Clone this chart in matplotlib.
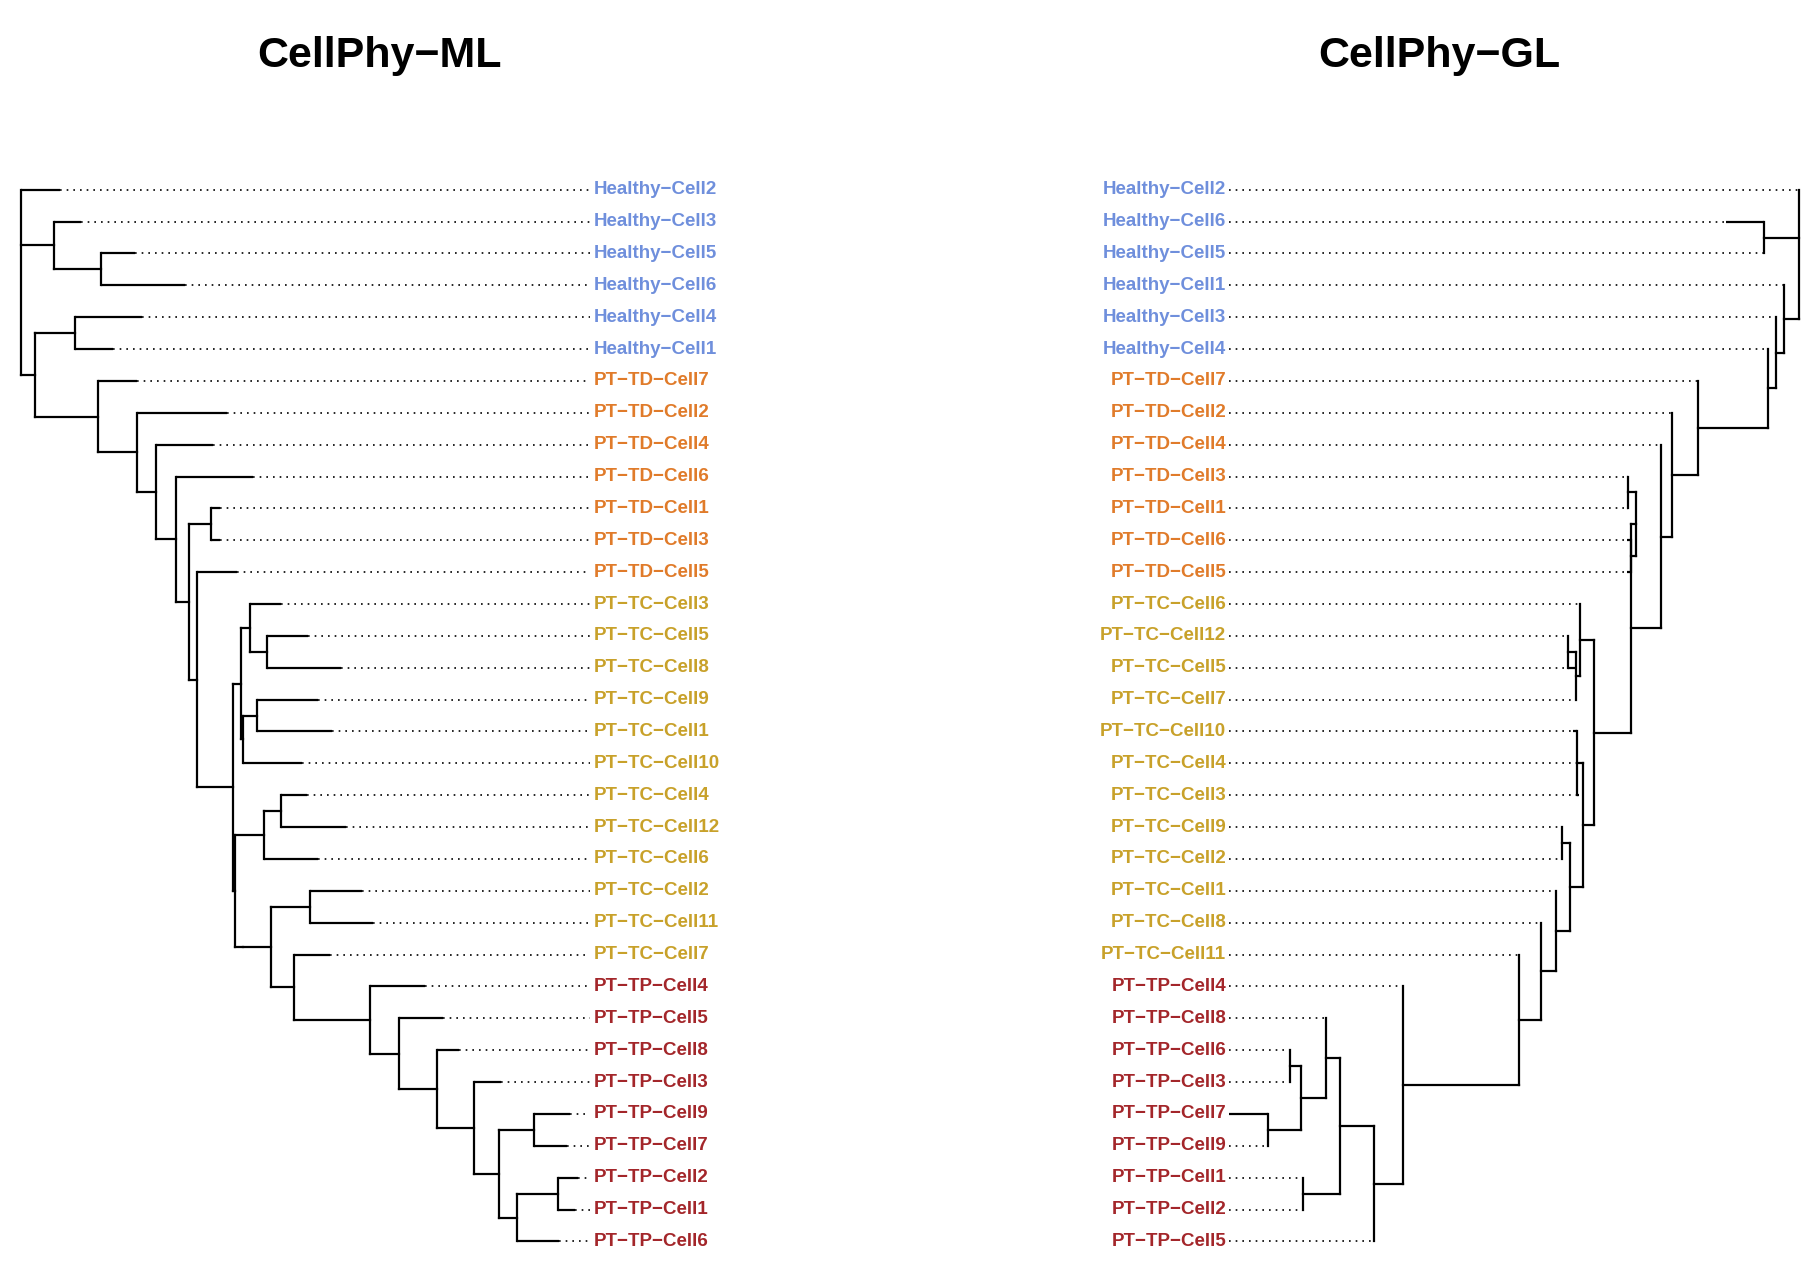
import matplotlib.pyplot as plt

# leaf tip positions (tree depth, in canvas units) -- left tree: CellPhy-ML
ml_tips = {
    'Healthy-Cell2': 52, 'Healthy-Cell3': 70, 'Healthy-Cell5': 117, 'Healthy-Cell6': 160,
    'Healthy-Cell4': 123, 'Healthy-Cell1': 98,
    'PT-TD-Cell7': 118, 'PT-TD-Cell2': 196, 'PT-TD-Cell4': 184, 'PT-TD-Cell6': 219,
    'PT-TD-Cell1': 190, 'PT-TD-Cell3': 190, 'PT-TD-Cell5': 205,
    'PT-TC-Cell3': 243, 'PT-TC-Cell5': 266, 'PT-TC-Cell8': 295, 'PT-TC-Cell9': 275,
    'PT-TC-Cell1': 287, 'PT-TC-Cell10': 261, 'PT-TC-Cell4': 265, 'PT-TC-Cell12': 299,
    'PT-TC-Cell6': 275, 'PT-TC-Cell2': 313, 'PT-TC-Cell11': 322, 'PT-TC-Cell7': 285,
    'PT-TP-Cell4': 367, 'PT-TP-Cell5': 383, 'PT-TP-Cell8': 397, 'PT-TP-Cell3': 433,
    'PT-TP-Cell9': 493, 'PT-TP-Cell7': 490, 'PT-TP-Cell2': 500, 'PT-TP-Cell1': 497,
    'PT-TP-Cell6': 483,
}
# internal nodes: (depth, [children])
tp_ml = (320, ['PT-TP-Cell4', (345, ['PT-TP-Cell5', (378, ['PT-TP-Cell8', (410, ['PT-TP-Cell3',
        (431, [(462, ['PT-TP-Cell9', 'PT-TP-Cell7']),
               (447, [(482, ['PT-TP-Cell2', 'PT-TP-Cell1']), 'PT-TP-Cell6'])])])])])])
tc_ml = (201, [(208, [(216, ['PT-TC-Cell3', (231, ['PT-TC-Cell5', 'PT-TC-Cell8'])]),
                      (210, [(222, ['PT-TC-Cell9', 'PT-TC-Cell1']), 'PT-TC-Cell10'])]),
               (203, [(228, [(243, ['PT-TC-Cell4', 'PT-TC-Cell12']), 'PT-TC-Cell6']),
                      (210, [(234, [(268, ['PT-TC-Cell2', 'PT-TC-Cell11']),
                                    (254, ['PT-TC-Cell7', tp_ml])])])])])
ml_tree = (18, ['Healthy-Cell2',
                (47, ['Healthy-Cell3', (87, ['Healthy-Cell5', 'Healthy-Cell6'])]),
                (30, [(65, ['Healthy-Cell4', 'Healthy-Cell1']),
                      (85, ['PT-TD-Cell7', (118, ['PT-TD-Cell2', (135, ['PT-TD-Cell4',
                       (152, ['PT-TD-Cell6', (163, [(182, ['PT-TD-Cell1', 'PT-TD-Cell3']),
                        (170, ['PT-TD-Cell5', tc_ml])])])])])])])])

# right tree: CellPhy-GL (root on the right)
gl_tips = {
    'Healthy-Cell2': 1555, 'Healthy-Cell6': 1492, 'Healthy-Cell5': 1525, 'Healthy-Cell1': 1542,
    'Healthy-Cell3': 1535, 'Healthy-Cell4': 1528,
    'PT-TD-Cell7': 1468, 'PT-TD-Cell2': 1445, 'PT-TD-Cell4': 1436, 'PT-TD-Cell3': 1406,
    'PT-TD-Cell1': 1406, 'PT-TD-Cell6': 1406, 'PT-TD-Cell5': 1406,
    'PT-TC-Cell6': 1366, 'PT-TC-Cell12': 1355, 'PT-TC-Cell5': 1362, 'PT-TC-Cell7': 1362,
    'PT-TC-Cell10': 1360, 'PT-TC-Cell4': 1362, 'PT-TC-Cell3': 1365, 'PT-TC-Cell9': 1350,
    'PT-TC-Cell2': 1350, 'PT-TC-Cell1': 1345, 'PT-TC-Cell8': 1332, 'PT-TC-Cell11': 1313,
    'PT-TP-Cell4': 1213, 'PT-TP-Cell8': 1146, 'PT-TP-Cell6': 1115, 'PT-TP-Cell3': 1115,
    'PT-TP-Cell7': 1062, 'PT-TP-Cell9': 1096, 'PT-TP-Cell1': 1126, 'PT-TP-Cell2': 1126,
    'PT-TP-Cell5': 1188,
}
tp_gl = (1213, ['PT-TP-Cell4', (1188, [(1158, [(1146, ['PT-TP-Cell8',
          (1125, [(1115, ['PT-TP-Cell6', 'PT-TP-Cell3']), (1096, ['PT-TP-Cell7', 'PT-TP-Cell9'])])]),
          (1126, ['PT-TP-Cell1', 'PT-TP-Cell2'])]), 'PT-TP-Cell5'])])
tc_gl = (1378, [(1366, ['PT-TC-Cell6', (1362, [(1355, ['PT-TC-Cell12', 'PT-TC-Cell5']), 'PT-TC-Cell7'])]),
                (1368, [(1363, ['PT-TC-Cell10', 'PT-TC-Cell4', 'PT-TC-Cell3']),
                        (1357, [(1350, ['PT-TC-Cell9', 'PT-TC-Cell2']),
                                (1345, ['PT-TC-Cell1', (1332, ['PT-TC-Cell8',
                                        (1313, ['PT-TC-Cell11', tp_gl])])])])])])
gl_tree = (1555, ['Healthy-Cell2', (1525, ['Healthy-Cell6', 'Healthy-Cell5']),
           (1542, ['Healthy-Cell1', (1535, ['Healthy-Cell3', (1528, ['Healthy-Cell4',
            (1468, ['PT-TD-Cell7', (1445, ['PT-TD-Cell2', (1436, ['PT-TD-Cell4',
             (1410, [(1414, [(1407, ['PT-TD-Cell3', 'PT-TD-Cell1']), (1410, ['PT-TD-Cell6', 'PT-TD-Cell5'])]),
                     tc_gl])])])])])])])])

group_colors = {'Healthy': '#6f8fdc', 'PT-TD': '#e07b2a', 'PT-TC': '#c8a12a', 'PT-TP': '#a3262a'}


def color_of(name):
    for k, c in group_colors.items():
        if name.startswith(k):
            return c


def draw_tree(ax, node, tips, rows, parent_x):
    # returns y of node
    if isinstance(node, str):
        y = rows[node]
        ax.plot([parent_x, tips[node]], [y, y], color='black', lw=1.6, solid_capstyle='butt')
        return y
    x, children = node
    ys = [draw_tree(ax, c, tips, rows, x) for c in children]
    ax.plot([x, x], [min(ys), max(ys)], color='black', lw=1.6)
    y = (min(ys) + max(ys)) / 2
    if parent_x is not None:
        ax.plot([parent_x, x], [y, y], color='black', lw=1.6)
    return y


def leaf_order(node, out):
    if isinstance(node, str):
        out.append(node)
    else:
        for c in node[1]:
            leaf_order(c, out)
    return out


fig = plt.figure(figsize=(18.14, 12.69), dpi=100)
ax = fig.add_axes([0, 0, 1, 1])
ax.set_xlim(0, 1568)
ax.set_ylim(1097, 0)
ax.axis('off')

y0, dy = 164, 27.55
for tree, tips, side in [(ml_tree, ml_tips, 'left'), (gl_tree, gl_tips, 'right')]:
    leaves = leaf_order(tree, [])
    rows = {n: y0 + i * dy for i, n in enumerate(leaves)}
    draw_tree(ax, tree, tips, rows, None)
    for n in leaves:
        y = rows[n]
        label = n.replace('-', '\u2212')
        if side == 'left':
            ax.plot([tips[n], 510], [y, y], color='black', lw=1.2, ls=(0, (1, 3)))
            ax.text(513, y, label, color=color_of(n), fontsize=13.5, fontweight='bold',
                    family='Liberation Sans', ha='left', va='center')
        else:
            ax.plot([1062, tips[n]], [y, y], color='black', lw=1.2, ls=(0, (1, 3)))
            ax.text(1060, y, label, color=color_of(n), fontsize=13.5, fontweight='bold',
                    family='Liberation Sans', ha='right', va='center')

ax.text(328, 48, 'CellPhy\u2212ML', fontsize=31, fontweight='bold', family='Liberation Sans',
        ha='center', va='center')
ax.text(1244, 48, 'CellPhy\u2212GL', fontsize=31, fontweight='bold', family='Liberation Sans',
        ha='center', va='center')

fig.savefig('out.png', dpi=100)
